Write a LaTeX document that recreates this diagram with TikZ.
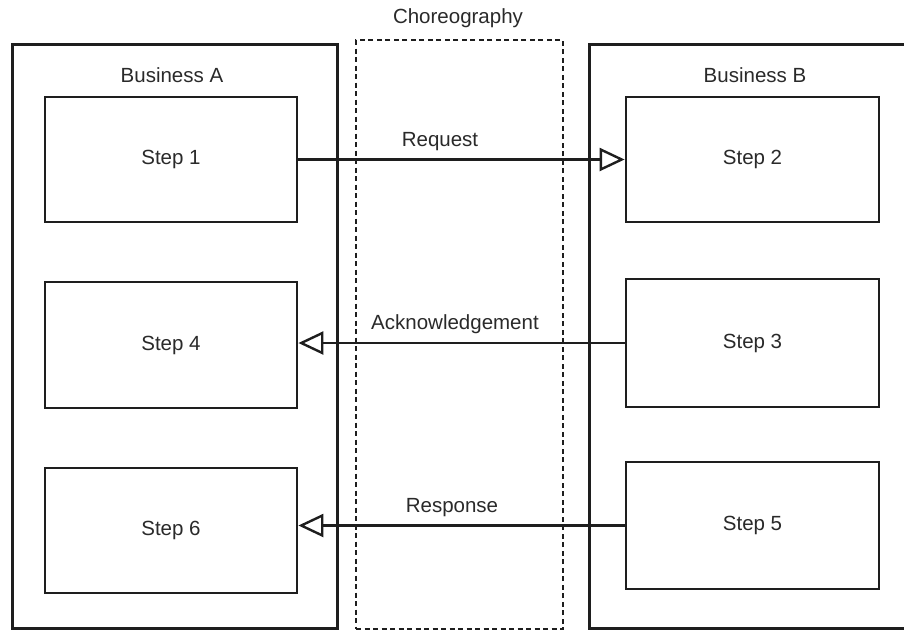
\documentclass[tikz,border=0pt]{standalone}
\usepackage{fontspec}
\setmainfont{Liberation Sans}
\usepackage{tikz}
\usetikzlibrary{arrows.meta,positioning}
\definecolor{linegray}{HTML}{1E1E1E}
\definecolor{textgray}{HTML}{2A2A2A}

\tikzset{
    bizbox/.style={draw=linegray, line width=3pt, rectangle, inner sep=0pt},
    chorbox/.style={draw=linegray, line width=2.6pt, dash pattern=on 5pt off 3.5pt, rectangle, inner sep=0pt},
    stepbox/.style={draw=linegray, line width=2.8pt, rectangle, inner sep=0pt, minimum height=125pt, text=textgray},
    msg/.style={-{Triangle[open, length=25pt, width=23pt, line width=2.4pt]}, line width=2.6pt, linegray},
    lbl/.style={text=textgray}
}

\begin{document}
\begin{tikzpicture}[x=1pt, y=-1pt, font=\fontsize{20.5}{24}\selectfont]
    \useasboundingbox (0,0) rectangle (904,630);
    \fill[white] (0,0) rectangle (904,630);

    % Choreography lane (dashed)
    \node[chorbox, minimum width=207pt, minimum height=589pt] (chor) at (459.5,334.5) {};
    \node[lbl] (chorlbl) at (458,18) {Choreography};

    % Business A
    \node[bizbox, minimum width=325pt, minimum height=584pt] (bizA) at (174.5,336) {};
    \node[lbl] (bizAlbl) at (172,75) {Business A};

    % Business B
    \node[bizbox, minimum width=316pt, minimum height=584pt] (bizB) at (747,336) {};
    \node[lbl] (bizBlbl) at (755,75) {Business B};

    % Steps of Business A
    \node[stepbox, minimum width=252pt] (s1) at (171,159.5) {Step 1};
    \node[stepbox, minimum width=252pt, minimum height=126pt] (s4) at (171,345) {Step 4};
    \node[stepbox, minimum width=252pt] (s6) at (171,530.5) {Step 6};

    % Steps of Business B
    \node[stepbox, minimum width=253pt] (s2) at (752.5,159.5) {Step 2};
    \node[stepbox, minimum width=253pt, minimum height=128pt] (s3) at (752.5,343) {Step 3};
    \node[stepbox, minimum width=253pt, minimum height=127pt] (s5) at (752.5,525.5) {Step 5};

    % Messages
    \draw[msg] (s1.east) -- (s1.east -| s2.west);
    \node[lbl] (reqlbl) at (440,142) {Request};

    \draw[msg] (s3.west) -- (s3.west -| s4.east);
    \node[lbl] (acklbl) at (455,324) {Acknowledgement};

    \draw[msg] (s5.west) -- (s5.west -| s6.east);
    \node[lbl] (reslbl) at (452,508) {Response};
\end{tikzpicture}
\end{document}
